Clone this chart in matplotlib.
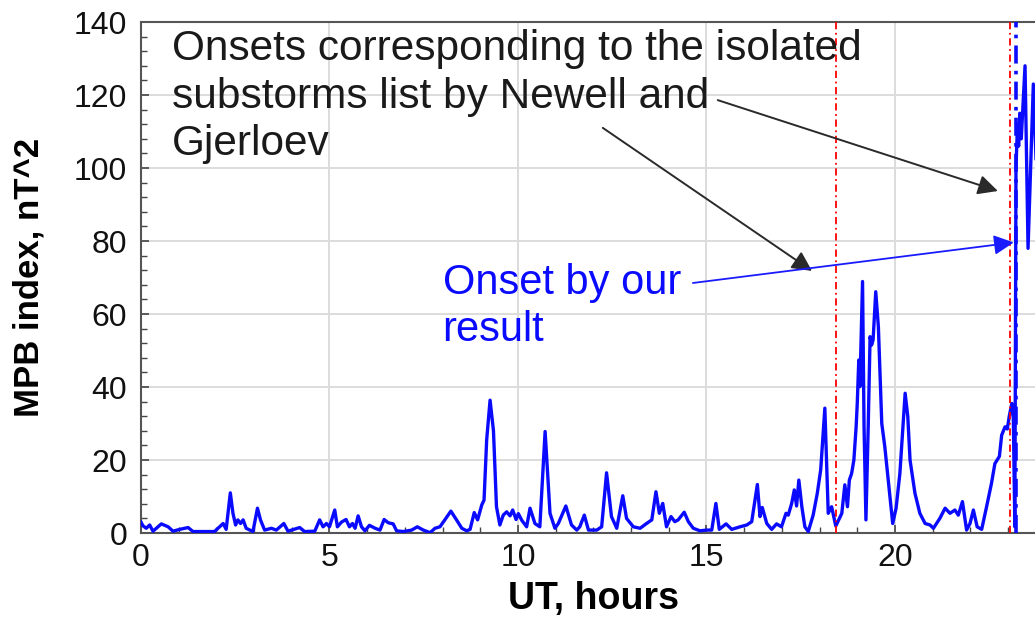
import matplotlib.pyplot as plt
import numpy as np
from matplotlib.ticker import MultipleLocator

plt.rcParams['font.family'] = ['Liberation Sans', 'DejaVu Sans']

# MPB index: UT hours and nT^2
ut_hours = [
    0.00, 0.05, 0.14, 0.23, 0.32, 0.54, 0.72, 0.85, 1.03, 1.25, 1.38, 1.95,
    2.18, 2.26, 2.37, 2.44, 2.51, 2.57, 2.64, 2.71, 2.79, 2.97, 3.09, 3.17,
    3.28, 3.46, 3.59, 3.79, 3.90, 4.21, 4.34, 4.61, 4.74, 4.83, 4.92, 5.00,
    5.14, 5.21, 5.32, 5.44, 5.53, 5.61, 5.68, 5.76, 5.85, 5.94, 6.06, 6.21,
    6.34, 6.45, 6.56, 6.69, 6.78, 6.96, 7.18, 7.33, 7.49, 7.67, 7.80, 7.93,
    8.06, 8.22, 8.37, 8.51, 8.64, 8.73, 8.84, 8.93, 9.04, 9.10, 9.17, 9.26,
    9.35, 9.43, 9.52, 9.61, 9.70, 9.79, 9.86, 9.95, 10.01, 10.10, 10.23, 10.32,
    10.45, 10.58, 10.72, 10.85, 10.98, 11.07, 11.27, 11.42, 11.56, 11.64, 11.76, 11.87,
    12.09, 12.22, 12.35, 12.48, 12.62, 12.78, 12.88, 13.06, 13.24, 13.41, 13.55, 13.66,
    13.75, 13.84, 13.94, 14.06, 14.16, 14.25, 14.41, 14.52, 14.65, 14.83, 15.00, 15.14,
    15.25, 15.34, 15.52, 15.67, 15.89, 16.07, 16.20, 16.35, 16.42, 16.48, 16.60, 16.73,
    16.86, 16.99, 17.11, 17.17, 17.26, 17.33, 17.39, 17.45, 17.53, 17.61, 17.70, 17.83,
    17.94, 18.03, 18.14, 18.23, 18.32, 18.43, 18.59, 18.67, 18.74, 18.79, 18.85, 18.91,
    18.97, 19.00, 19.04, 19.07, 19.11, 19.14, 19.18, 19.23, 19.29, 19.34, 19.38, 19.42,
    19.49, 19.56, 19.65, 19.73, 19.85, 19.94, 20.03, 20.13, 20.20, 20.27, 20.34, 20.40,
    20.53, 20.66, 20.80, 20.93, 21.02, 21.19, 21.33, 21.46, 21.59, 21.68, 21.79, 21.90,
    21.99, 22.08, 22.18, 22.30, 22.43, 22.56, 22.65, 22.77, 22.83, 22.92, 22.98, 23.03,
    23.10, 23.14, 23.18, 23.21, 23.25, 23.28, 23.31, 23.35, 23.45, 23.53, 23.67, 23.75,
]
mpb = [
    3.0, 2.0, 1.3, 2.2, 0.5, 2.5, 1.7, 0.5, 1.0, 1.5, 0.4, 0.4,
    2.6, 1.0, 11.0, 5.4, 2.2, 3.6, 2.6, 3.6, 1.3, 0.4, 6.8, 3.6,
    0.8, 1.3, 0.8, 2.6, 0.5, 1.5, 0.4, 0.5, 3.6, 1.7, 2.6, 1.7,
    6.3, 1.7, 3.0, 3.7, 1.7, 2.6, 1.3, 4.7, 1.7, 0.6, 2.1, 1.3,
    0.8, 3.7, 2.8, 2.5, 0.6, 0.4, 0.8, 1.7, 0.8, 0.1, 1.3, 1.7,
    3.6, 6.0, 3.6, 1.3, 0.6, 1.0, 5.6, 3.6, 7.7, 9.0, 25.5, 36.4,
    28.0, 7.2, 2.2, 4.9, 5.8, 4.7, 6.3, 3.7, 5.3, 3.5, 1.7, 6.8,
    2.6, 1.7, 27.8, 5.4, 1.3, 2.6, 7.4, 2.2, 0.8, 1.7, 4.9, 0.8,
    0.8, 1.7, 16.5, 4.5, 1.3, 10.2, 4.0, 1.7, 1.3, 2.6, 3.6, 11.3,
    5.4, 8.1, 1.7, 4.5, 3.1, 3.6, 5.7, 3.1, 1.3, 0.6, 0.8, 0.8,
    8.1, 1.0, 2.5, 1.0, 1.7, 2.2, 3.1, 13.3, 4.5, 7.0, 2.6, 1.0,
    2.5, 1.7, 5.4, 4.9, 8.1, 11.8, 7.4, 14.5, 7.2, 1.7, 0.4, 4.9,
    10.9, 17.3, 34.2, 5.4, 7.2, 1.9, 5.4, 13.2, 7.2, 14.5, 16.3, 20.0,
    29.1, 35.5, 47.4, 40.1, 56.5, 68.9, 29.1, 3.6, 29.0, 53.8, 51.5, 52.9,
    66.1, 56.5, 30.0, 23.7, 11.8, 2.6, 6.8, 16.3, 27.3, 38.3, 31.9, 20.0,
    10.9, 5.4, 2.6, 2.2, 1.3, 4.0, 6.8, 5.4, 6.3, 4.9, 8.6, 0.8,
    2.6, 6.3, 1.7, 1.0, 7.2, 13.6, 19.0, 21.0, 26.8, 29.1, 28.5, 31.9,
    35.5, 31.4, 1.7, 100.0, 112.0, 106.0, 115.0, 108.0, 128.0, 78.0, 123.0, 100.0,
]

newell_onsets = [18.43, 23.05]
our_onset = 23.21

fig = plt.figure(figsize=(10.35, 6.31), dpi=100)
ax = fig.add_axes([0.1362, 0.1553, 0.8742, 0.8098])

ax.plot(ut_hours, mpb, color='#0a0aff', lw=2.4, zorder=3)
for t in newell_onsets:
    ax.axvline(t, color='red', lw=1.3, ls=(0, (4, 2, 1, 2)), zorder=4)
ax.axvline(our_onset, color='#0a0aff', lw=2.6, ls=(0, (5, 2, 1, 2)), zorder=4)

ax.set_xlim(0, 24)
ax.set_ylim(0, 140)
ax.xaxis.set_major_locator(MultipleLocator(5))
ax.xaxis.set_minor_locator(MultipleLocator(1))
ax.yaxis.set_major_locator(MultipleLocator(20))
ax.yaxis.set_minor_locator(MultipleLocator(4))
ax.tick_params(which='both', direction='in', colors='#444444', labelcolor='#111111',
               labelsize=23, top=False, right=False)
ax.tick_params(which='major', length=6, width=1.2)
ax.tick_params(which='minor', length=4, width=1.0)
ax.tick_params(axis='y', which='major', pad=10)
ax.tick_params(axis='x', which='major', pad=7)
ax.grid(True, which='major', color='#dcdcdc', lw=1.4, zorder=0)
for side in ['top', 'left', 'bottom']:
    ax.spines[side].set_color('#555555')
    ax.spines[side].set_linewidth(1.5)
ax.spines['right'].set_visible(False)

ax.set_xlabel('UT, hours', fontsize=27, fontweight='bold', labelpad=6)
ax.set_ylabel('MPB index, nT^2', fontsize=25, fontweight='bold', labelpad=20)

ax.text(0.82, 138.0, 'Onsets corresponding to the isolated\nsubstorms list by Newell and\nGjerloev',
        fontsize=30.5, color='#1a1a1a', va='top', ha='left', linespacing=1.24, zorder=5)
ax.text(8.0, 74.0, 'Onset by our\nresult', fontsize=30, color='#0a0aff',
        va='top', ha='left', linespacing=1.22, zorder=5)

black_arrow = dict(arrowstyle='-|>', color='#2a2a2a', lw=1.4, mutation_scale=30,
                   shrinkA=0, shrinkB=0)
ax.annotate('', xy=(22.73, 93.7), xytext=(15.3, 118.6), arrowprops=black_arrow, zorder=5)
ax.annotate('', xy=(17.8, 71.8), xytext=(12.25, 111.0), arrowprops=black_arrow, zorder=5)
ax.annotate('', xy=(23.15, 79.6), xytext=(14.64, 68.5),
            arrowprops=dict(arrowstyle='-|>', color='#1a1aff', lw=1.3, mutation_scale=30,
                            shrinkA=0, shrinkB=0), zorder=5)

fig.savefig('out.png', dpi=100)
